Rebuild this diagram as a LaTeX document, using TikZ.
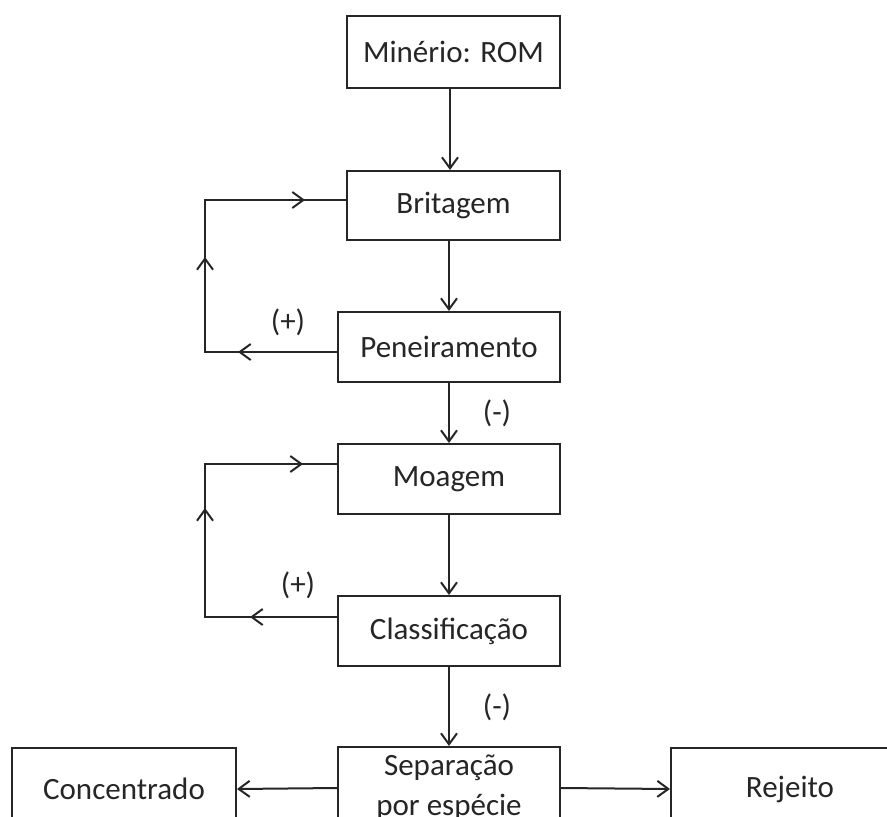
\documentclass[tikz,border=0pt]{standalone}
\usepackage{fontspec}
\setmainfont{Carlito}
\usetikzlibrary{arrows.meta,calc}
\begin{document}
\begin{tikzpicture}[x=1pt,y=-1pt,
  every node/.style={font=\fontsize{31}{40}\selectfont, text=black!85},
  box/.style={draw=black!85, line width=2pt, inner sep=0pt, align=center},
  ln/.style={draw=black!85, line width=2pt},
  arr/.style={ln, -{Straight Barb[length=11pt,width=16pt]}},
  lbl/.style={inner sep=0pt}]
\useasboundingbox (0,0) rectangle (887,817);
\clip (0,0) rectangle (887,817);
\fill[white] (0,0) rectangle (887,817);

\node[box, minimum width=213pt, minimum height=72pt] (rom)  at (453.5,52)  {Minério: ROM};
\node[box, minimum width=213pt, minimum height=69pt] (brit) at (453.5,205.5) {Britagem};
\node[box, minimum width=222pt, minimum height=70pt] (pen)  at (449,347)   {Peneiramento};
\node[box, minimum width=222pt, minimum height=70pt] (moa)  at (449,479)   {Moagem};
\node[box, minimum width=222pt, minimum height=70pt] (cla)  at (449,631)   {Classificação};
\node[box, minimum width=222pt, minimum height=82pt] (sep)  at (449,788)   {Separação\\por espécie};
\node[box, minimum width=224pt, minimum height=82pt] (con)  at (124,789)   {Concentrado};
\node[box, minimum width=238pt, minimum height=82pt] (rej)  at (790,789)   {Rejeito};

% main flow
\draw[arr] (rom.south -| 450,0) -- (brit.north -| 450,0);
\draw[arr] (brit.south -| pen.north) -- (pen.north);
\draw[arr] (pen.south) -- (moa.north);
\draw[arr] (moa.south) -- (cla.north);
\draw[arr] (cla.south) -- (sep.north);
\draw[arr] (sep.west) -- (con.east);
\draw[arr] (sep.east) -- (rej.west);

% loop 1
\coordinate (p1) at ($(pen.west)+(0,5)$);
\coordinate (c1b) at (205,352);
\coordinate (c1t) at (205,200);
\coordinate (b1) at ($(brit.west)+(0,-5.5)$);
\coordinate (t1a) at (238,352);
\coordinate (t1b) at (205,257);
\coordinate (t1c) at (305,200);
\draw[ln] (p1) -- (c1b) -- (c1t) -- (b1);
\draw[arr] (p1) -- (t1a);
\draw[arr] (c1b) -- (t1b);
\draw[arr] (c1t) -- (t1c);

% loop 2
\coordinate (p2) at ($(cla.west)+(0,-14)$);
\coordinate (c2b) at (205,617);
\coordinate (c2t) at (205,464);
\coordinate (b2) at ($(moa.west)+(0,-15)$);
\coordinate (t2a) at (250,617);
\coordinate (t2b) at (205,508);
\coordinate (t2c) at (303,464);
\draw[ln] (p2) -- (c2b) -- (c2t) -- (b2);
\draw[arr] (p2) -- (t2a);
\draw[arr] (c2b) -- (t2b);
\draw[arr] (c2t) -- (t2c);

% labels
\node[lbl] (plus1)  at (288,322) {(+)};
\node[lbl] (plus2)  at (298,585) {(+)};
\node[lbl] (minus1) at (497,413) {(-)};
\node[lbl] (minus2) at (497,707) {(-)};
\end{tikzpicture}
\end{document}
